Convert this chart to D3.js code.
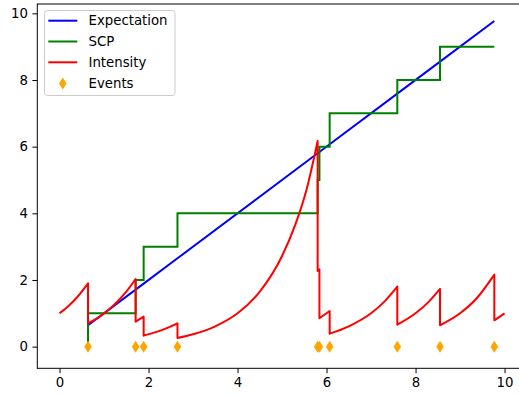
<!DOCTYPE html>
<html>
<head>
<meta charset="utf-8">
<script src="https://cdn.jsdelivr.net/npm/d3@7"></script>
<style>
  body { margin: 0; background: #fff; }
  svg { display: block; font-family: "DejaVu Sans", sans-serif; }
</style>
</head>
<body>
<div id="chart"></div>
<script>
// event times
const eventTimes = [0.64, 1.71, 1.89, 2.65, 5.80, 5.84, 6.07, 7.59, 8.55, 9.77];
// SCP counting process, stepped before each event
const scpCounts = [0, 1, 2, 3, 4, 5, 6, 7, 8, 9];
// expectation at each event time
const expectation = [0.64, 1.71, 1.89, 2.65, 5.80, 5.84, 6.07, 7.59, 8.55, 9.77];
// intensity, one list of [t, value] per piece between events
const intensityPieces = [
    [[0, 1.00], [0.2, 1.22], [0.4, 1.49], [0.64, 1.90]],
    [[0.64, 0.70], [0.9, 0.90], [1.2, 1.22], [1.5, 1.65], [1.71, 2.03]],
    [[1.71, 0.75], [1.89, 0.90]],
    [[1.89, 0.33], [2.2, 0.45], [2.45, 0.58], [2.65, 0.70]],
    [[2.65, 0.26], [3.0, 0.37], [3.5, 0.61], [4.0, 1.00], [4.5, 1.65], [5.0, 2.72], [5.3, 3.67], [5.55, 4.71], [5.80, 6.17]],
    [[5.80, 2.27], [5.84, 2.32]],
    [[5.84, 0.85], [6.07, 1.07]],
    [[6.07, 0.39], [6.5, 0.61], [7.0, 1.00], [7.3, 1.35], [7.59, 1.80]],
    [[7.59, 0.66], [8.0, 1.00], [8.3, 1.35], [8.55, 1.73]],
    [[8.55, 0.64], [9.0, 1.00], [9.4, 1.49], [9.77, 2.16]],
    [[9.77, 0.79], [10.0, 1.00]]
];
const xTicks = [0, 2, 4, 6, 8, 10];
const yTicks = [0, 2, 4, 6, 8, 10];
const legendNames = ["Expectation", "SCP", "Intensity", "Events"];

const width = 519, height = 397;
const fontSize = "13.3px";

const svg = d3.select("#chart").append("svg")
    .attr("width", width)
    .attr("height", height);

const x = d3.scaleLinear().domain([-0.5, 10.5]).range([37.3, 526.8]);
const y = d3.scaleLinear().domain([-0.65, 10.28]).range([368.3, 4]);

const plot = svg.append("g");

// expectation
plot.append("path")
    .datum(eventTimes.map((t, i) => [t, expectation[i]]))
    .attr("fill", "none")
    .attr("stroke", "#0000ff")
    .attr("stroke-width", 2)
    .attr("d", d3.line().x(d => x(d[0])).y(d => y(d[1])));

// SCP steps
plot.append("path")
    .datum(eventTimes.map((t, i) => [t, scpCounts[i]]))
    .attr("fill", "none")
    .attr("stroke", "#008000")
    .attr("stroke-width", 2)
    .attr("d", d3.line().x(d => x(d[0])).y(d => y(d[1])).curve(d3.curveStepBefore));

// intensity: smooth pieces joined by vertical drops
const pieceLine = d3.line().x(d => x(d[0])).y(d => y(d[1])).curve(d3.curveMonotoneX);
const intensityPath = intensityPieces
    .map((p, i) => {
        const d = pieceLine(p);
        return i === 0 ? d : "L" + d.slice(1);
    })
    .join("");
plot.append("path")
    .attr("fill", "none")
    .attr("stroke", "#ff0000")
    .attr("stroke-width", 2)
    .attr("stroke-linejoin", "round")
    .attr("d", intensityPath);

// events
const diamond = (cx, cy) => {
    const hw = 3.8, hh = 6;
    return `M${cx},${cy - hh}L${cx + hw},${cy}L${cx},${cy + hh}L${cx - hw},${cy}Z`;
};
plot.append("g")
    .selectAll("path")
    .data(eventTimes)
    .join("path")
        .attr("d", t => diamond(x(t), y(0)))
        .attr("fill", "#ffa500");

// axes
const xAxis = svg.append("g")
    .attr("transform", `translate(0,${y.range()[0]})`)
    .call(d3.axisBottom(x).tickValues(xTicks).tickSize(4.9).tickPadding(4.4).tickSizeOuter(0));
const yAxis = svg.append("g")
    .attr("transform", `translate(${x.range()[0]},0)`)
    .call(d3.axisLeft(y).tickValues(yTicks).tickSize(4.9).tickPadding(4.4).tickSizeOuter(0));

[xAxis, yAxis].forEach(a => {
    a.select(".domain").remove();
    a.selectAll("line").attr("stroke", "#000").attr("stroke-width", 1);
    a.selectAll("text")
        .attr("fill", "#000")
        .style("font-size", fontSize)
        .style("font-family", "DejaVu Sans");
});

// spines
svg.append("rect")
    .attr("x", x.range()[0])
    .attr("y", y.range()[1])
    .attr("width", x.range()[1] - x.range()[0])
    .attr("height", y.range()[0] - y.range()[1])
    .attr("fill", "none")
    .attr("stroke", "#000")
    .attr("stroke-width", 1);

// legend
const legend = svg.append("g");
legend.append("rect")
    .attr("x", 44.5)
    .attr("y", 10.5)
    .attr("width", 130.5)
    .attr("height", 85)
    .attr("rx", 3)
    .attr("fill", "#fff")
    .attr("fill-opacity", 0.8)
    .attr("stroke", "#cccccc")
    .attr("stroke-width", 1);

const legendColors = ["#0000ff", "#008000", "#ff0000", "#ffa500"];
const rowY = [20.7, 41.5, 62.3, 83.5];

legendNames.forEach((name, i) => {
    if (i < 3) {
        legend.append("line")
            .attr("x1", 48.3).attr("x2", 77.3)
            .attr("y1", rowY[i]).attr("y2", rowY[i])
            .attr("stroke", legendColors[i])
            .attr("stroke-width", 2);
    } else {
        legend.append("path")
            .attr("d", diamond(62.8, rowY[i]))
            .attr("fill", legendColors[i]);
    }
    legend.append("text")
        .attr("x", 88.5)
        .attr("y", rowY[i])
        .attr("dy", "0.36em")
        .attr("fill", "#000")
        .style("font-size", fontSize)
        .text(name);
});
</script>
</body>
</html>
